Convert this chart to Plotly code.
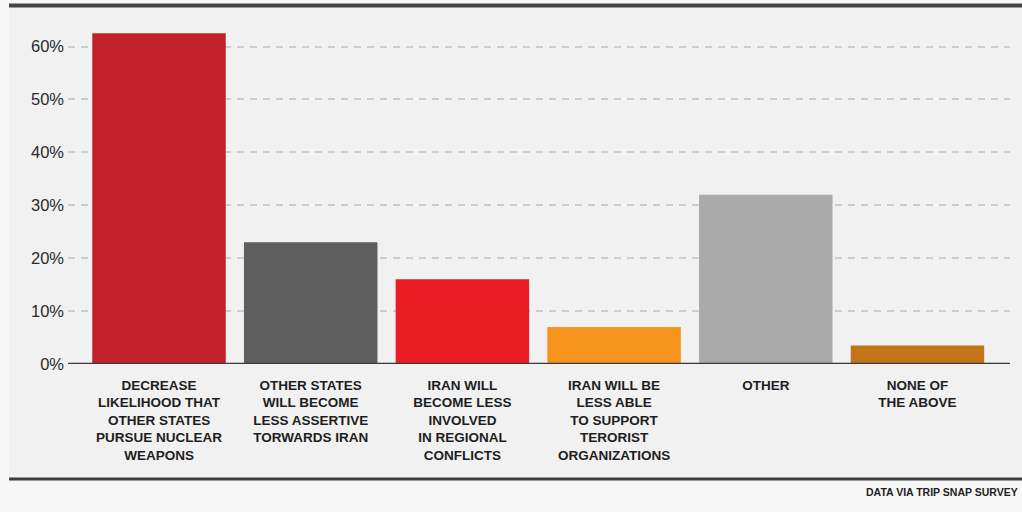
import plotly.graph_objects as go

# Survey responses: expected effect of the Iran nuclear deal
categories = [
    "DECREASE<br>LIKELIHOOD THAT<br>OTHER STATES<br>PURSUE NUCLEAR<br>WEAPONS",
    "OTHER STATES<br>WILL BECOME<br>LESS ASSERTIVE<br>TORWARDS IRAN",
    "IRAN WILL<br>BECOME LESS<br>INVOLVED<br>IN REGIONAL<br>CONFLICTS",
    "IRAN WILL BE<br>LESS ABLE<br>TO SUPPORT<br>TERORIST<br>ORGANIZATIONS",
    "OTHER",
    "NONE OF<br>THE ABOVE",
]
values = [62.5, 23, 16, 7, 32, 3.5]
bar_colors = ["#c1212a", "#5e5e5e", "#ec1c24", "#f7941d", "#aaaaaa", "#c17418"]
y_ticks = [0, 10, 20, 30, 40, 50, 60]
y_tick_labels = ["0%", "10%", "20%", "30%", "40%", "50%", "60%"]
source_note = "DATA VIA TRIP SNAP SURVEY"

x_pos = list(range(len(categories)))

fig = go.Figure(
    go.Bar(
        x=x_pos,
        y=values,
        marker=dict(color=bar_colors, line=dict(width=0)),
        width=0.88,
        hoverinfo="skip",
    )
)

# Page frame: heavy rules above and below the chart panel
fig.add_shape(type="rect", xref="paper", yref="paper",
              x0=-0.0626, x1=1.02, y0=-0.325, y1=1.0127,
              fillcolor="#f1f1f1", line=dict(width=0), layer="below")
fig.add_shape(type="line", xref="paper", yref="paper",
              x0=-0.0626, x1=1.02, y0=1.0127, y1=1.0127,
              line=dict(color="#454545", width=4))
fig.add_shape(type="line", xref="paper", yref="paper",
              x0=-0.0626, x1=1.02, y0=-0.325, y1=-0.325,
              line=dict(color="#3c3c3c", width=3))
# Baseline at 0%
fig.add_shape(type="line", xref="paper", yref="y",
              x0=0, x1=1, y0=0, y1=0,
              line=dict(color="#3a3a3a", width=2.5))

fig.add_annotation(
    text=source_note, xref="paper", yref="paper",
    x=1.0106, y=-0.3616, xanchor="right", yanchor="middle",
    showarrow=False,
    font=dict(family="Liberation Sans, Arial", size=10.5, color="#222222", weight="bold"),
)

fig.update_layout(
    width=1022,
    height=512,
    margin=dict(l=68, r=12, t=10, b=148),
    paper_bgcolor="#f7f7f7",
    plot_bgcolor="rgba(0,0,0,0)",
    showlegend=False,
    bargap=0.11,
)

fig.update_xaxes(
    range=[-0.6, 5.61],
    tickmode="array",
    tickvals=x_pos,
    ticktext=categories,
    showgrid=False,
    zeroline=False,
    showline=False,
    ticks="",
    ticklabelstandoff=11,
    tickfont=dict(family="Liberation Sans, Arial", size=13.5, color="#1e1e1e", weight="bold"),
    fixedrange=True,
)

fig.update_yaxes(
    range=[0, 66.9],
    tickmode="array",
    tickvals=y_ticks,
    ticktext=y_tick_labels,
    showgrid=True,
    gridcolor="#cdcdcd",
    gridwidth=2,
    griddash="7px,6px",
    zeroline=False,
    showline=False,
    ticks="",
    ticklabelstandoff=3,
    tickfont=dict(family="Liberation Sans, Arial", size=16.5, color="#2a2a2a"),
    fixedrange=True,
)

fig.write_html("out.html")
